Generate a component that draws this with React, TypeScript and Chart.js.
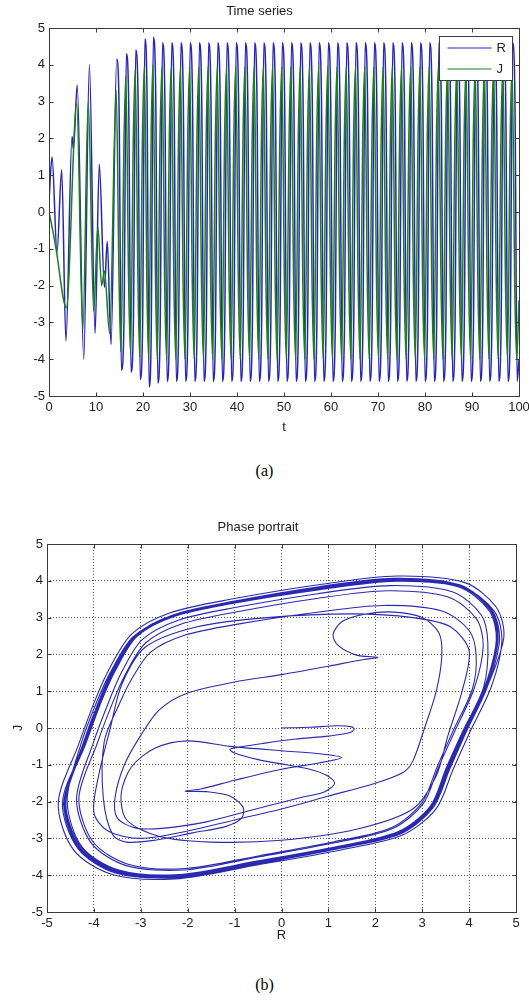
import React, { useEffect, useRef } from "react";
import { Chart, registerables } from "chart.js";
Chart.register(...registerables);

const FONT = "'Liberation Sans', Arial, sans-serif";
const TXT = "#222222";

const seriesNames = ["R", "J"];
const seriesColors = ["#2626b4", "#1c7f1c"];
const phaseColor = "#2a2ab0";
const timeTicks = [0, 10, 20, 30, 40, 50, 60, 70, 80, 90, 100];
const valueTicks = [-5, -4, -3, -2, -1, 0, 1, 2, 3, 4, 5];

// R(t): turning points and shoulders
const rTimes = [0, 0.65, 1.7, 2.7, 3.6, 4.9, 5.2, 6.0, 7.4, 8.6, 9.8, 10.7, 11.8, 12.4, 13.2,
  14.4, 14.9, 15.4, 15.95, 16.45, 16.95, 17.45, 17.95, 18.45, 18.95, 19.4, 19.9, 20.4, 20.85, 21.3, 21.75, 22.2, 22.7, 23.15, 23.65,
  24.15, 24.64, 25.13, 25.62, 26.11, 26.60, 27.09, 27.58, 28.07, 28.56, 29.05, 29.54, 30.03, 30.52, 31.01, 31.50,
  31.99, 32.48, 32.97, 33.46, 33.95, 34.44, 34.93, 35.42, 35.91, 36.40, 36.89, 37.38, 37.87, 38.36, 38.85, 39.34,
  39.83, 40.32, 40.81, 41.30, 41.79, 42.28, 42.77, 43.26, 43.75, 44.24, 44.73, 45.22, 45.71, 46.20, 46.69, 47.18,
  47.67, 48.16, 48.65, 49.14, 49.63, 50.12, 50.61, 51.10, 51.59, 52.08, 52.57, 53.06, 53.55, 54.04, 54.53, 55.02,
  55.51, 56.00, 56.49, 56.98, 57.47, 57.96, 58.45, 58.94, 59.43, 59.92, 60.41, 60.90, 61.39, 61.88, 62.37, 62.86,
  63.35, 63.84, 64.33, 64.82, 65.31, 65.80, 66.29, 66.78, 67.27, 67.76, 68.25, 68.74, 69.23, 69.72, 70.21, 70.70,
  71.19, 71.68, 72.17, 72.66, 73.15, 73.64, 74.13, 74.62, 75.11, 75.60, 76.09, 76.58, 77.07, 77.56, 78.05, 78.54,
  79.03, 79.52, 80.01, 80.50, 80.99, 81.48, 81.97, 82.46, 82.95, 83.44, 83.93, 84.42, 84.91, 85.40, 85.89, 86.38,
  86.87, 87.36, 87.85, 88.34, 88.83, 89.32, 89.81, 90.30, 90.79, 91.28, 91.77, 92.26, 92.75, 93.24, 93.73, 94.22,
  94.71, 95.20, 95.69, 96.18, 96.67, 97.16, 97.65, 98.14, 98.63, 99.12, 99.61, 100];
const rValues = [0.3, 1.5, -1.1, 1.15, -3.5, 2.05, 1.7, 3.45, -4.0, 4.0, -3.3, 1.3, -2.05, -0.8, -3.6,
  4.15, 2.9, -4.3, -3.0, 4.3, 3.0, -4.35, -3.05, 4.4, 3.1, -4.55, -3.2, 4.7, 3.25, -4.75, -3.25, 4.75, 3.25, -4.65, -3.2,
  4.6, 3.2, -4.6, -3.2, 4.6, 3.2, -4.6, -3.2, 4.6, 3.2, -4.6, -3.2, 4.6, 3.2, -4.6, -3.2,
  4.6, 3.2, -4.6, -3.2, 4.6, 3.2, -4.6, -3.2, 4.6, 3.2, -4.6, -3.2, 4.6, 3.2, -4.6, -3.2,
  4.6, 3.2, -4.6, -3.2, 4.6, 3.2, -4.6, -3.2, 4.6, 3.2, -4.6, -3.2, 4.6, 3.2, -4.6, -3.2,
  4.6, 3.2, -4.6, -3.2, 4.6, 3.2, -4.6, -3.2, 4.6, 3.2, -4.6, -3.2, 4.6, 3.2, -4.6, -3.2,
  4.6, 3.2, -4.6, -3.2, 4.6, 3.2, -4.6, -3.2, 4.6, 3.2, -4.6, -3.2, 4.6, 3.2, -4.6, -3.2,
  4.6, 3.2, -4.6, -3.2, 4.6, 3.2, -4.6, -3.2, 4.6, 3.2, -4.6, -3.2, 4.6, 3.2, -4.6, -3.2,
  4.6, 3.2, -4.6, -3.2, 4.6, 3.2, -4.6, -3.2, 4.6, 3.2, -4.6, -3.2, 4.6, 3.2, -4.6, -3.2,
  4.6, 3.2, -4.6, -3.2, 4.6, 3.2, -4.6, -3.2, 4.6, 3.2, -4.6, -3.2, 4.6, 3.2, -4.6, -3.2,
  4.6, 3.2, -4.6, -3.2, 4.6, 3.2, -4.6, -3.2, 4.6, 3.2, -4.6, -3.2, 4.6, 3.2, -4.6, -3.2,
  4.6, 3.2, -4.6, -3.2, 4.6, 3.2, -4.6, -3.2, 4.6, 3.2, -4.6, -4.0];

// J(t): turning points and shoulders
const jTimes = [0, 0.8, 1.5, 3.7, 5.9, 7.2, 8.35, 9.5, 10.4, 11.2, 11.8, 12.9,
  14.3, 14.9, 15.3, 15.95, 16.35, 16.95, 17.35, 17.95, 18.35, 18.95, 19.3, 19.9, 20.3, 20.85, 21.2, 21.75, 22.1, 22.7, 23.05, 23.65,
  24.05, 24.64, 25.03, 25.62, 26.01, 26.60, 26.99, 27.58, 27.97, 28.56, 28.95, 29.54, 29.93, 30.52, 30.91, 31.50,
  31.89, 32.48, 32.87, 33.46, 33.85, 34.44, 34.83, 35.42, 35.81, 36.40, 36.79, 37.38, 37.77, 38.36, 38.75, 39.34,
  39.73, 40.32, 40.71, 41.30, 41.69, 42.28, 42.67, 43.26, 43.65, 44.24, 44.63, 45.22, 45.61, 46.20, 46.59, 47.18,
  47.57, 48.16, 48.55, 49.14, 49.53, 50.12, 50.51, 51.10, 51.49, 52.08, 52.47, 53.06, 53.45, 54.04, 54.43, 55.02,
  55.41, 56.00, 56.39, 56.98, 57.37, 57.96, 58.35, 58.94, 59.33, 59.92, 60.31, 60.90, 61.29, 61.88, 62.27, 62.86,
  63.25, 63.84, 64.23, 64.82, 65.21, 65.80, 66.19, 66.78, 67.17, 67.76, 68.15, 68.74, 69.13, 69.72, 70.11, 70.70,
  71.09, 71.68, 72.07, 72.66, 73.05, 73.64, 74.03, 74.62, 75.01, 75.60, 75.99, 76.58, 76.97, 77.56, 77.95, 78.54,
  78.93, 79.52, 79.91, 80.50, 80.89, 81.48, 81.87, 82.46, 82.85, 83.44, 83.83, 84.42, 84.81, 85.40, 85.79, 86.38,
  86.77, 87.36, 87.75, 88.34, 88.73, 89.32, 89.71, 90.30, 90.69, 91.28, 91.67, 92.26, 92.65, 93.24, 93.63, 94.22,
  94.61, 95.20, 95.59, 96.18, 96.57, 97.16, 97.55, 98.14, 98.53, 99.12, 99.51, 100];
const jValues = [0, -0.5, -1.0, -2.6, 2.95, -3.2, 3.0, -2.7, -0.4, -2.0, -1.6, -3.3,
  3.3, -1.8, -3.8, 1.9, 3.7, -2.0, -3.85, 2.1, 3.85, -2.1, -3.95, 2.2, 3.95, -2.2, -4.0, 2.2, 4.0, -2.2, -4.0, 2.2,
  3.95, -2.2, -4.0, 2.2, 3.95, -2.2, -4.0, 2.2, 3.95, -2.2, -4.0, 2.2, 3.95, -2.2, -4.0, 2.2,
  3.95, -2.2, -4.0, 2.2, 3.95, -2.2, -4.0, 2.2, 3.95, -2.2, -4.0, 2.2, 3.95, -2.2, -4.0, 2.2,
  3.95, -2.2, -4.0, 2.2, 3.95, -2.2, -4.0, 2.2, 3.95, -2.2, -4.0, 2.2, 3.95, -2.2, -4.0, 2.2,
  3.95, -2.2, -4.0, 2.2, 3.95, -2.2, -4.0, 2.2, 3.95, -2.2, -4.0, 2.2, 3.95, -2.2, -4.0, 2.2,
  3.95, -2.2, -4.0, 2.2, 3.95, -2.2, -4.0, 2.2, 3.95, -2.2, -4.0, 2.2, 3.95, -2.2, -4.0, 2.2,
  3.95, -2.2, -4.0, 2.2, 3.95, -2.2, -4.0, 2.2, 3.95, -2.2, -4.0, 2.2, 3.95, -2.2, -4.0, 2.2,
  3.95, -2.2, -4.0, 2.2, 3.95, -2.2, -4.0, 2.2, 3.95, -2.2, -4.0, 2.2, 3.95, -2.2, -4.0, 2.2,
  3.95, -2.2, -4.0, 2.2, 3.95, -2.2, -4.0, 2.2, 3.95, -2.2, -4.0, 2.2, 3.95, -2.2, -4.0, 2.2,
  3.95, -2.2, -4.0, 2.2, 3.95, -2.2, -4.0, 2.2, 3.95, -2.2, -4.0, 2.2, 3.95, -2.2, -4.0, 2.2,
  3.95, -2.2, -4.0, 2.2, 3.95, -2.2, -4.0, 2.2, 3.95, -2.2, -4.0, -2.4];

// phase portrait: early transient, (R, J) pairs
const phaseEarly: number[][] = [
  [0, 0], [0.6, 0.02], [1.2, 0.06], [1.5, 0.03], [1.55, -0.03], [1.45, -0.13], [1.0, -0.22], [0.3, -0.3], [-0.4, -0.42], [-0.9, -0.52], [-1.1, -0.58],
  [-1.0, -0.68], [-0.5, -0.86], [0.1, -1.0], [0.6, -1.12], [0.95, -1.28], [1.13, -1.5],
  [0.91, -1.74], [0.48, -1.87], [-0.24, -2.1], [-0.81, -2.29], [-1.6, -2.55], [-2.5, -2.72], [-3.1, -2.72], [-3.5, -2.45],
  [-3.55, -1.9], [-3.35, -1.0], [-3.0, -0.2], [-2.6, 0.5], [-2.0, 0.95], [-1.0, 1.25], [0, 1.45], [1.0, 1.68], [1.7, 1.85], [2.05, 1.92],
  [1.6, 1.98], [1.2, 2.25], [1.1, 2.55], [1.3, 2.9], [1.8, 3.1], [2.4, 3.15], [3.0, 3.0], [3.35, 2.6], [3.42, 2.0],
  [3.3, 1.0], [3.05, 0], [2.8, -0.9], [2.6, -1.2], [2.0, -1.5], [1.0, -1.85], [0, -2.2], [-1.0, -2.5], [-2.0, -2.8], [-3.0, -3.0], [-3.7, -2.8], [-4.0, -2.3],
  [-3.9, -1.3], [-3.65, 0], [-3.4, 1.2], [-2.9, 2.2], [-1.8, 2.75], [-0.3, 3.0], [1.5, 3.1], [2.8, 3.0], [3.6, 2.75], [4.0, 2.1],
  [3.85, 1.0], [3.55, -0.2], [3.3, -1.3], [2.8, -2.2], [1.6, -2.75], [0, -3.05], [-1.5, -3.1], [-2.6, -2.95], [-3.3, -2.5],
  [-3.42, -1.8], [-3.2, -1.06], [-2.7, -0.55], [-2.0, -0.35], [-1.1, -0.5], [0, -0.62], [0.8, -0.7], [1.28, -0.8],
  [0.8, -0.95], [0, -1.12], [-1.0, -1.42], [-1.7, -1.65], [-2.05, -1.72],
  [-1.6, -1.73], [-1.1, -1.85], [-0.82, -2.15], [-0.85, -2.45], [-1.2, -2.68], [-1.9, -2.85], [-2.7, -3.05], [-3.3, -3.1], [-3.6, -2.9],
];

// phase portrait: growing rings
const phaseRings: number[][] = [
  [-3.8, -1.9], [-3.78, -0.37], [-3.47, 0.62], [-3.2, 1.32], [-2.79, 2.06], [-2.07, 2.52], [-0.9, 2.83], [0.72, 3.14], [2.16, 3.33], [3.42, 3.18], [4.0, 2.65], [4.15, 1.98],
  [4.07, 1.06], [3.65, -0.1], [3.32, -1.05], [2.99, -2.04], [2.34, -2.71], [1.12, -3.09], [-0.47, -3.47], [-2.06, -3.82], [-3.27, -3.7], [-4.02, -3.09], [-4.32, -1.9],
  [-3.93, -0.42], [-3.6, 0.69], [-3.32, 1.48], [-2.9, 2.31], [-2.15, 2.82], [-0.94, 3.16], [0.75, 3.52], [2.24, 3.73], [3.55, 3.56], [4.16, 2.96], [4.3, 2.22],
  [4.11, 1.08], [3.69, -0.1], [3.35, -1.06], [3.02, -2.06], [2.36, -2.74], [1.13, -3.12], [-0.47, -3.5], [-2.08, -3.86], [-3.31, -3.74], [-4.06, -3.12], [-4.37, -1.92],
  [-4.02, -0.43], [-3.68, 0.72], [-3.4, 1.54], [-2.97, 2.4], [-2.2, 2.93], [-0.96, 3.28], [0.77, 3.65], [2.3, 3.87], [3.64, 3.7], [4.26, 3.07], [4.4, 2.3],
  [4.31, 1.11], [3.86, -0.1], [3.51, -1.09], [3.17, -2.13], [2.48, -2.82], [1.19, -3.22], [-0.5, -3.61], [-2.18, -3.98], [-3.47, -3.86], [-4.26, -3.22], [-4.57, -1.98],
  [-4.28, -0.45], [-3.93, 0.74], [-3.62, 1.58], [-3.16, 2.48], [-2.35, 3.02], [-1.02, 3.39], [0.82, 3.76], [2.45, 3.99], [3.88, 3.81], [4.54, 3.17], [4.7, 2.38],
  [4.48, 1.14], [4.02, -0.1], [3.66, -1.12], [3.3, -2.19], [2.58, -2.91], [1.24, -3.32], [-0.52, -3.72], [-2.27, -4.1], [-3.61, -3.98], [-4.43, -3.32], [-4.76, -2.04],
  [-4.33, -0.46], [-3.97, 0.77], [-3.66, 1.64], [-3.19, 2.56], [-2.37, 3.13], [-1.03, 3.51], [0.82, 3.9], [2.47, 4.13], [3.91, 3.95], [4.58, 3.28], [4.74, 2.46],
  [4.39, 1.13], [3.94, -0.1], [3.59, -1.11], [3.23, -2.17], [2.53, -2.88], [1.21, -3.28], [-0.51, -3.69], [-2.22, -4.06], [-3.54, -3.94], [-4.34, -3.28], [-4.67, -2.02],
];

// phase portrait: settled limit cycle windings
const phaseCycle: number[][] = [
  [-4.2, -0.45], [-3.85, 0.75], [-3.55, 1.6], [-3.1, 2.5], [-2.3, 3.05], [-1.0, 3.42], [0.8, 3.8], [2.4, 4.03], [3.8, 3.85], [4.45, 3.2], [4.6, 2.4],
  [4.35, 1.12], [3.9, -0.1], [3.55, -1.1], [3.2, -2.15], [2.5, -2.85], [1.2, -3.25], [-0.5, -3.65], [-2.2, -4.02], [-3.5, -3.9], [-4.3, -3.25], [-4.62, -2.0],
  [-4.22, -0.45], [-3.87, 0.75], [-3.57, 1.61], [-3.12, 2.51], [-2.31, 3.07], [-1.0, 3.44], [0.8, 3.82], [2.41, 4.05], [3.82, 3.87], [4.47, 3.22], [4.62, 2.41],
  [4.37, 1.13], [3.92, -0.1], [3.57, -1.11], [3.22, -2.16], [2.51, -2.86], [1.21, -3.27], [-0.5, -3.67], [-2.21, -4.04], [-3.52, -3.92], [-4.32, -3.27], [-4.64, -2.01],
  [-4.18, -0.45], [-3.83, 0.75], [-3.53, 1.59], [-3.08, 2.49], [-2.29, 3.03], [-1.0, 3.4], [0.8, 3.78], [2.39, 4.01], [3.78, 3.83], [4.43, 3.18], [4.58, 2.39],
  [4.33, 1.11], [3.88, -0.1], [3.53, -1.09], [3.18, -2.14], [2.49, -2.84], [1.19, -3.23], [-0.5, -3.63], [-2.19, -4.0], [-3.48, -3.88], [-4.28, -3.23], [-4.6, -1.99],
  [-4.2, -0.45], [-3.85, 0.76], [-3.55, 1.62], [-3.1, 2.53], [-2.3, 3.08], [-1.0, 3.45], [0.8, 3.84], [2.4, 4.07], [3.8, 3.89], [4.45, 3.23], [4.6, 2.42],
  [4.35, 1.13], [3.9, -0.1], [3.55, -1.11], [3.2, -2.17], [2.5, -2.88], [1.2, -3.28], [-0.5, -3.69], [-2.2, -4.06], [-3.5, -3.94], [-4.3, -3.28], [-4.62, -2.02],
  [-4.24, -0.45], [-3.89, 0.75], [-3.59, 1.6], [-3.13, 2.5], [-2.32, 3.05], [-1.01, 3.42], [0.81, 3.8], [2.42, 4.03], [3.84, 3.85], [4.49, 3.2], [4.65, 2.4],
  [4.39, 1.12], [3.94, -0.1], [3.59, -1.1], [3.23, -2.15], [2.53, -2.85], [1.21, -3.25], [-0.51, -3.65], [-2.22, -4.02], [-3.54, -3.9], [-4.34, -3.25], [-4.67, -2.0],
];

const boxPlugin = {
  id: "matlabBox",
  afterDraw(chart: any) {
    const { ctx, chartArea: a, scales } = chart;
    const L = Math.round(a.left) + 0.5, R = Math.round(a.right) + 0.5;
    const T = Math.round(a.top) + 0.5, B = Math.round(a.bottom) + 0.5;
    ctx.save();
    ctx.strokeStyle = "#3a3a3a";
    ctx.lineWidth = 1;
    ctx.strokeRect(L, T, R - L, B - T);
    const len = 4;
    ctx.beginPath();
    scales.x.ticks.forEach((t: any) => {
      const x = Math.round(scales.x.getPixelForValue(t.value)) + 0.5;
      ctx.moveTo(x, B); ctx.lineTo(x, B - len);
      ctx.moveTo(x, T); ctx.lineTo(x, T + len);
    });
    scales.y.ticks.forEach((t: any) => {
      const y = Math.round(scales.y.getPixelForValue(t.value)) + 0.5;
      ctx.moveTo(L, y); ctx.lineTo(L + len, y);
      ctx.moveTo(R, y); ctx.lineTo(R - len, y);
    });
    ctx.stroke();
    ctx.restore();
  },
};

const legendPlugin = {
  id: "matlabLegend",
  afterDraw(chart: any) {
    const { ctx, chartArea: a } = chart;
    const w = 73, h = 44;
    const x0 = Math.round(a.right) - 7 - w + 0.5;
    const y0 = Math.round(a.top) + 8 + 0.5;
    ctx.save();
    ctx.fillStyle = "#ffffff";
    ctx.fillRect(x0, y0, w, h);
    ctx.strokeStyle = "#3a3a3a";
    ctx.lineWidth = 1;
    ctx.strokeRect(x0, y0, w, h);
    ctx.font = `13px ${FONT}`;
    ctx.textBaseline = "middle";
    ctx.textAlign = "left";
    seriesNames.forEach((name, i) => {
      const y = Math.round(y0 + 11 + i * 21);
      ctx.strokeStyle = seriesColors[i];
      ctx.lineWidth = 1.2;
      ctx.beginPath();
      ctx.moveTo(x0 + 8, y);
      ctx.lineTo(x0 + 52, y);
      ctx.stroke();
      ctx.fillStyle = TXT;
      ctx.fillText(name, x0 + 57, y);
    });
    ctx.restore();
  },
};

function axisBase(min: number, max: number, ticksArr: number[], grid: boolean) {
  return {
    type: "linear",
    min,
    max,
    afterBuildTicks: (s: any) => { s.ticks = ticksArr.map((v) => ({ value: v })); },
    ticks: { font: { size: 13, family: FONT }, color: TXT, padding: 4, maxRotation: 0, autoSkip: false },
    grid: grid
      ? { display: true, drawTicks: false, color: "#555555", lineWidth: 1 }
      : { display: false, drawTicks: false },
    border: { display: false, dash: [1, 2] },
  };
}

function TimeChart() {
  const ref = useRef<HTMLCanvasElement>(null);
  useEffect(() => {
    const chart = new Chart(ref.current as HTMLCanvasElement, {
      type: "line",
      data: {
        datasets: [
          {
            label: seriesNames[0],
            data: rTimes.map((t, i) => ({ x: t, y: rValues[i] })),
            borderColor: seriesColors[0],
            borderWidth: 1.5,
            pointRadius: 0,
            cubicInterpolationMode: "monotone",
            order: 1,
          },
          {
            label: seriesNames[1],
            data: jTimes.map((t, i) => ({ x: t, y: jValues[i] })),
            borderColor: seriesColors[1],
            borderWidth: 1.5,
            pointRadius: 0,
            cubicInterpolationMode: "monotone",
            order: 0,
          },
        ],
      },
      options: {
        animation: false,
        responsive: false,
        maintainAspectRatio: false,
        layout: { padding: { left: 0, right: 10, top: 0, bottom: 0 } },
        plugins: {
          legend: { display: false },
          tooltip: { enabled: false },
          title: {
            display: true,
            text: "Time series",
            font: { size: 13, family: FONT, weight: "normal" },
            color: TXT,
            padding: { top: 4, bottom: 8.4 },
          },
        },
        scales: {
          x: {
            ...axisBase(0, 100, timeTicks, false),
            title: { display: true, text: "t", font: { size: 13, family: FONT }, color: TXT, padding: { top: 0, bottom: 10 } },
            afterFit: (s: any) => { s.height = 49; s.paddingLeft = 0; s.paddingRight = 0; },
          },
          y: {
            ...axisBase(-5, 5, valueTicks, false),
            afterFit: (s: any) => { s.width = 49; s.paddingTop = 0; s.paddingBottom = 0; },
          },
        },
      } as any,
      plugins: [boxPlugin, legendPlugin],
    });
    return () => chart.destroy();
  }, []);
  return <canvas ref={ref} width={529} height={445} style={{ position: "absolute", left: 0, top: 0 }} />;
}

function PhaseChart() {
  const ref = useRef<HTMLCanvasElement>(null);
  useEffect(() => {
    const path = [...phaseEarly, ...phaseRings, ...phaseCycle];
    const chart = new Chart(ref.current as HTMLCanvasElement, {
      type: "scatter",
      data: {
        datasets: [
          {
            label: "J vs R",
            data: path.map((p) => ({ x: p[0], y: p[1] })),
            showLine: true,
            borderColor: phaseColor,
            borderWidth: 1.1,
            pointRadius: 0,
            tension: 0.3,
          },
        ],
      },
      options: {
        animation: false,
        responsive: false,
        maintainAspectRatio: false,
        layout: { padding: { left: 0, right: 13, top: 0, bottom: 0 } },
        plugins: {
          legend: { display: false },
          tooltip: { enabled: false },
          title: {
            display: true,
            text: "Phase portrait",
            font: { size: 13, family: FONT, weight: "normal" },
            color: TXT,
            padding: { top: 20, bottom: 8.4 },
          },
        },
        scales: {
          x: {
            ...axisBase(-5, 5, valueTicks, true),
            title: { display: true, text: "R", font: { size: 13, family: FONT }, color: TXT, padding: { top: 0, bottom: 17 } },
            afterFit: (s: any) => { s.height = 48; s.paddingLeft = 0; s.paddingRight = 0; },
          },
          y: {
            ...axisBase(-5, 5, valueTicks, true),
            title: { display: true, text: "J", font: { size: 13, family: FONT }, color: TXT, padding: { top: 11, bottom: 0 } },
            afterFit: (s: any) => { s.width = 47; s.paddingTop = 0; s.paddingBottom = 0; },
          },
        },
      } as any,
      plugins: [boxPlugin],
    });
    return () => chart.destroy();
  }, []);
  return <canvas ref={ref} width={529} height={460} style={{ position: "absolute", left: 0, top: 500 }} />;
}

const captionStyle: React.CSSProperties = {
  position: "absolute",
  left: 0,
  width: 529,
  textAlign: "center",
  fontFamily: "'Liberation Serif', 'Times New Roman', serif",
  fontSize: 16,
  color: "#000",
  lineHeight: "20px",
};

export default function App() {
  return (
    <div style={{ position: "absolute", left: 0, top: 0, width: 529, height: 1001, background: "#ffffff", overflow: "hidden" }}>
      <TimeChart />
      <div style={{ ...captionStyle, top: 461 }}>(a)</div>
      <PhaseChart />
      <div style={{ ...captionStyle, top: 975 }}>(b)</div>
    </div>
  );
}
